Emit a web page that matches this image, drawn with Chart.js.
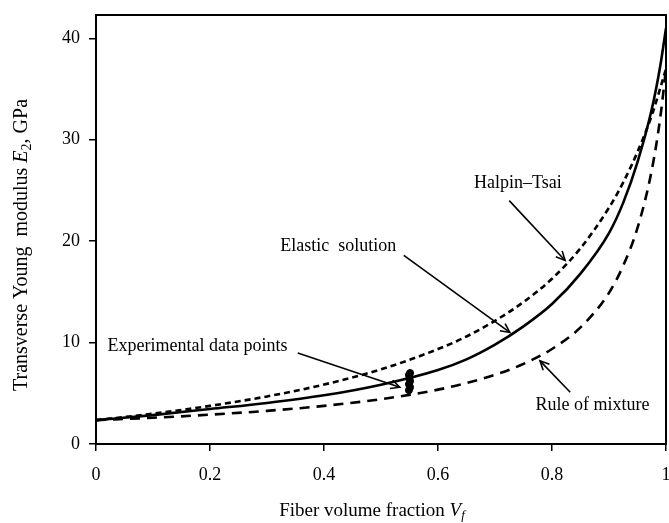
<!DOCTYPE html>
<html><head><meta charset="utf-8">
<script src="https://cdn.jsdelivr.net/npm/chart.js@4/dist/chart.umd.min.js"></script>
<style>html,body{margin:0;padding:0;background:#fff}#wrap{width:669px;height:523px}</style>
</head><body><div id="wrap"><canvas id="c" width="669" height="523"></canvas></div>
<script>
// ---- data ----
const vfGrid = [0,0.1,0.2,0.3,0.4,0.5,0.6,0.65,0.7,0.75,0.8,0.85,0.9,0.925,0.95,0.975,0.99,1];
const elasticE = [2.35,2.85,3.45,4.05,4.8,5.85,7.3,8.35,9.8,11.6,13.8,16.8,20.8,23.8,27.8,33.0,37.3,41.0];
const halpinE  = [2.35,2.99,3.76,4.69,5.86,7.36,9.36,10.6,12.15,14.0,16.3,19.3,23.3,25.8,28.8,32.4,35.1,37.0];
const mixtureE = [2.35,2.59,2.89,3.27,3.76,4.42,5.36,6.01,6.82,7.9,9.37,11.5,14.9,17.6,21.3,27.0,32.2,37.0];
const expVf = [0.549,0.551,0.549,0.551,0.55,0.549,0.551];
const expE  = [5.3,5.6,5.9,6.2,6.5,6.8,7.0];
const xTicks = [0,0.2,0.4,0.6,0.8,1];
const yTicks = [0,10,20,30,40];

// annotation labels and arrows (in data units)
const annoTexts = [
  {t:'Halpin\u2013Tsai', x:0.74, y:25.7},
  {t:'Elastic  solution', x:0.425, y:19.5},
  {t:'Experimental data points', x:0.178, y:9.6},
  {t:'Rule of mixture', x:0.871, y:3.84}
];
const annoArrows = [
  {x1:0.725, y1:24.0, x2:0.823, y2:18.1},
  {x1:0.54, y1:18.6, x2:0.726, y2:11.0},
  {x1:0.354, y1:8.97, x2:0.533, y2:5.6},
  {x1:0.832, y1:5.1, x2:0.779, y2:8.2}
];

const SERIF = '"Liberation Serif","DejaVu Serif",serif';
const pts = (xs, ys) => xs.map((x,i)=>({x, y: ys[i]}));

const overlay = {
  id:'overlay',
  afterDatasetsDraw(chart){
    const {ctx, chartArea:a, scales:{x, y}} = chart;
    ctx.save();
    ctx.strokeStyle = '#000'; ctx.lineWidth = 2;
    ctx.strokeRect(a.left, a.top, a.right - a.left, a.bottom - a.top);
    ctx.lineWidth = 1.6;
    annoArrows.forEach(ar => {
      const X1 = x.getPixelForValue(ar.x1), Y1 = y.getPixelForValue(ar.y1);
      const X2 = x.getPixelForValue(ar.x2), Y2 = y.getPixelForValue(ar.y2);
      ctx.beginPath(); ctx.moveTo(X1,Y1); ctx.lineTo(X2,Y2); ctx.stroke();
      const ang = Math.atan2(Y2-Y1, X2-X1), L = 10, s = 0.45;
      ctx.beginPath();
      ctx.moveTo(X2 - L*Math.cos(ang - s), Y2 - L*Math.sin(ang - s));
      ctx.lineTo(X2, Y2);
      ctx.lineTo(X2 - L*Math.cos(ang + s), Y2 - L*Math.sin(ang + s));
      ctx.stroke();
    });
    ctx.fillStyle = '#000';
    ctx.font = '18px ' + SERIF;
    ctx.textAlign = 'center'; ctx.textBaseline = 'middle';
    annoTexts.forEach(t => ctx.fillText(t.t, x.getPixelForValue(t.x), y.getPixelForValue(t.y)));
    ctx.restore();
  },
  afterDraw(chart){
    const {ctx} = chart;
    ctx.save();
    ctx.fillStyle = '#000';
    ctx.textBaseline = 'middle';
    const draw = (segs, cx, cy, rot) => {
      let w = 0;
      segs.forEach(s => { ctx.font = s.f; s.w = ctx.measureText(s.t).width; w += s.w; });
      ctx.save(); ctx.translate(cx, cy); if (rot) ctx.rotate(rot);
      let px = -w/2;
      ctx.textAlign = 'left';
      segs.forEach(s => { ctx.font = s.f; ctx.fillText(s.t, px, s.dy || 0); px += s.w; });
      ctx.restore();
    };
    const N = '20px ' + SERIF, I = 'italic 20px ' + SERIF, S = '14px ' + SERIF;
    draw([{t:'Transverse Young  modulus ', f:N},{t:'E', f:I},{t:'2', f:S, dy:5},{t:', GPa', f:N}], 22, 245, -Math.PI/2);
    const N2 = '19px ' + SERIF, I2 = 'italic 19px ' + SERIF, SI2 = 'italic 13px ' + SERIF;
    draw([{t:'Fiber volume fraction ', f:N2},{t:'V', f:I2},{t:'f', f:SI2, dy:5}], 372, 511, 0);
    ctx.restore();
  }
};

new Chart(document.getElementById('c'), {
  type:'line',
  data:{
    datasets:[
      {label:'Elastic solution', data:pts(vfGrid, elasticE), borderColor:'#000', borderWidth:2.6, pointRadius:0, cubicInterpolationMode:'monotone', fill:false},
      {label:'Halpin–Tsai', data:pts(vfGrid, halpinE), borderColor:'#000', borderWidth:2.6, borderDash:[6,4], pointRadius:0, cubicInterpolationMode:'monotone', fill:false},
      {label:'Rule of mixture', data:pts(vfGrid, mixtureE), borderColor:'#000', borderWidth:2.6, borderDash:[10,7], pointRadius:0, cubicInterpolationMode:'monotone', fill:false},
      {label:'Experimental data points', data:pts(expVf, expE), showLine:false, pointRadius:3.5, pointBackgroundColor:'#000', pointBorderColor:'#000', pointBorderWidth:1}
    ]
  },
  options:{
    responsive:false, animation:false, devicePixelRatio:1,
    layout:{autoPadding:false, padding:{left:0, top:15, right:3, bottom:0}},
    plugins:{legend:{display:false}, tooltip:{enabled:false}},
    scales:{
      x:{type:'linear', min:0, max:1,
        afterFit(s){ s.height = 79; s.paddingLeft = 0; s.paddingRight = 0; s.paddingTop = 0; s.paddingBottom = 0; },
        afterBuildTicks(s){ s.ticks = xTicks.map(v=>({value:v})); },
        ticks:{color:'#000', font:{family:SERIF, size:18}, padding:13, maxRotation:0, callback:v=>String(+v.toFixed(1))},
        grid:{display:true, drawOnChartArea:false, drawTicks:true, tickLength:7, color:'#000', lineWidth:1.5},
        border:{display:true, color:'#000', width:2}},
      y:{type:'linear', min:0, max:42.3,
        afterFit(s){ s.width = 96; s.paddingLeft = 0; s.paddingRight = 0; s.paddingTop = 0; s.paddingBottom = 0; },
        afterBuildTicks(s){ s.ticks = yTicks.map(v=>({value:v})); },
        ticks:{color:'#000', font:{family:SERIF, size:18}, padding:9, callback:v=>String(v)},
        grid:{display:true, drawOnChartArea:false, drawTicks:true, tickLength:7, color:'#000', lineWidth:1.5},
        border:{display:true, color:'#000', width:2}}
    }
  },
  plugins:[overlay]
});
</script></body></html>
